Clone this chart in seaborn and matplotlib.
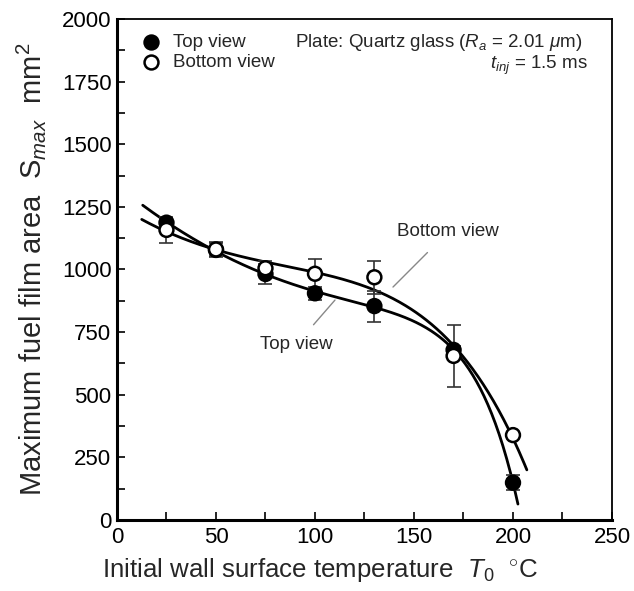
import numpy as np
import pandas as pd
import matplotlib
matplotlib.use("Agg")
import matplotlib.pyplot as plt
import seaborn as sns
from matplotlib.ticker import MultipleLocator

# data
temps = [25, 50, 75, 100, 130, 170, 200]
top_area = [1187, 1078, 982, 905, 854, 679, 149]
top_err = [20, 30, 40, 27, 62, 15, 30]
bottom_area = [1158, 1080, 1005, 983, 969, 655, 339]
bottom_err = [53, 25, 30, 60, 65, 125, 0]

# range of the fitted curves
top_fit_range = [13, 202.5]
bottom_fit_range = [12.5, 207]


def fit_curve(t, s, xs):
    # least squares fit of a + b*T + c*T^2 + d*exp(T/tau), tau by grid search
    t = np.asarray(t, float)
    s = np.asarray(s, float)
    best = None
    for tau in np.arange(5, 80, 0.5):
        A = np.column_stack([np.ones_like(t), t, t ** 2, np.exp(t / tau)])
        coef, *_ = np.linalg.lstsq(A, s, rcond=None)
        res = np.sum((A @ coef - s) ** 2)
        if best is None or res < best[0]:
            best = (res, tau, coef)
    _, tau, coef = best
    return coef[0] + coef[1] * xs + coef[2] * xs ** 2 + coef[3] * np.exp(xs / tau)


sns.set_theme(style="ticks")
plt.rcParams['font.family'] = ['Liberation Sans', 'DejaVu Sans']
plt.rcParams['mathtext.fontset'] = 'custom'
plt.rcParams['mathtext.rm'] = 'Liberation Sans'
plt.rcParams['mathtext.it'] = 'Liberation Sans:italic'

fig = plt.figure(figsize=(6.34, 5.91), dpi=100)
ax = fig.add_axes([0.1845, 0.1201, 0.7808, 0.8478])

df = pd.DataFrame({'T': temps * 2,
                   'S': top_area + bottom_area,
                   'err': top_err + bottom_err,
                   'view': ['Top view'] * len(temps) + ['Bottom view'] * len(temps)})

# fitted curves
for area, rng in [(top_area, top_fit_range), (bottom_area, bottom_fit_range)]:
    xs = np.linspace(rng[0], rng[1], 300)
    sns.lineplot(x=xs, y=fit_curve(temps, area, xs), ax=ax, color='black', lw=2, zorder=2)

# error bars
for name, sub in df.groupby('view'):
    ax.errorbar(sub['T'], sub['S'], yerr=sub['err'], fmt='none', ecolor='#333333',
                elinewidth=1.2, capsize=5, capthick=1.2, zorder=3)

sns.scatterplot(data=df, x='T', y='S', hue='view', hue_order=['Top view', 'Bottom view'],
                palette={'Top view': 'black', 'Bottom view': 'white'},
                edgecolor='black', linewidth=1.8, s=100, ax=ax, zorder=4, legend=False)

# legend
h1 = ax.scatter([], [], s=100, color='black', edgecolor='black', linewidth=1.8)
h2 = ax.scatter([], [], s=100, color='white', edgecolor='black', linewidth=1.8)
ax.legend([h1, h2], ['Top view', 'Bottom view'], loc='upper left', frameon=False,
          fontsize=13.5, handletextpad=0.2, borderaxespad=0.3, labelspacing=0.15,
          borderpad=0.5)

ax.text(0.94, 0.953, r'Plate: Quartz glass ($R_a$ = 2.01 $\mu$m)', transform=ax.transAxes,
        ha='right', va='center', fontsize=13.5)
ax.text(0.95, 0.907, r'$t_{inj}$ = 1.5 ms', transform=ax.transAxes,
        ha='right', va='center', fontsize=13.5)

# curve labels with leader lines
ax.annotate('Top view', xy=(110.1, 878), xytext=(90.4, 699), fontsize=13.5,
            ha='center', va='center',
            arrowprops=dict(arrowstyle='-', color='#888888', lw=1, shrinkA=8, shrinkB=0))
ax.annotate('Bottom view', xy=(139.4, 930), xytext=(167.2, 1150), fontsize=13.5,
            ha='center', va='center',
            arrowprops=dict(arrowstyle='-', color='#888888', lw=1, shrinkA=9, shrinkB=0))

ax.set_xlim(0, 250)
ax.set_ylim(0, 2000)
ax.xaxis.set_major_locator(MultipleLocator(50))
ax.xaxis.set_minor_locator(MultipleLocator(25))
ax.yaxis.set_major_locator(MultipleLocator(250))
ax.yaxis.set_minor_locator(MultipleLocator(125))
ax.tick_params(which='both', direction='in', top=False, right=False,
               labelsize=16, width=1.2, color='black', labelcolor='black')
ax.tick_params(which='major', length=6)
ax.tick_params(which='minor', length=6)
ax.tick_params(axis='x', which='major', pad=5)
ax.tick_params(axis='y', which='major', pad=4)

for side in ['left', 'bottom']:
    ax.spines[side].set_linewidth(2.2)
for side in ['top', 'right']:
    ax.spines[side].set_linewidth(1.3)
for s in ax.spines.values():
    s.set_color('black')

ax.set_xlabel(r'Initial wall surface temperature  $T_0$  $^{\circ}$C', fontsize=18.6)
ax.xaxis.set_label_coords(0.41, -0.072)
ax.set_ylabel(r'Maximum fuel film area  $\mathrm{S}_{max}$  mm$^2$', fontsize=21)
ax.yaxis.set_label_coords(-0.14, 0.5)

fig.savefig('out.png', dpi=100)
